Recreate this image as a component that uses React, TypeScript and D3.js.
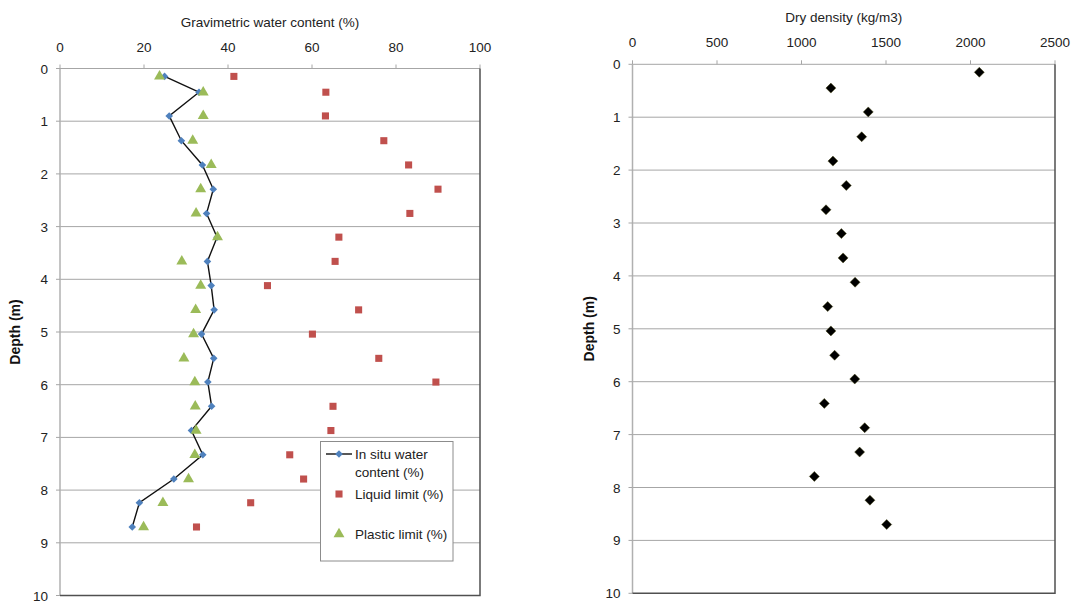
import React, { useEffect, useRef } from "react";
import * as d3 from "d3";

// depth of each sample (m)
const depths = [0.15, 0.45, 0.9, 1.37, 1.83, 2.29, 2.75, 3.2, 3.66, 4.12, 4.58, 5.04, 5.5, 5.95, 6.41, 6.87, 7.33, 7.79, 8.24, 8.7];
// gravimetric water content (%)
const inSitu = [24.9, 33.1, 26.0, 28.9, 33.9, 36.5, 34.9, 37.4, 35.1, 36.0, 36.7, 33.7, 36.6, 35.2, 36.1, 31.3, 34.0, 27.1, 18.9, 17.2];
const liquidLimit = [41.4, 63.3, 63.2, 77.1, 83.0, 90.0, 83.3, 66.4, 65.5, 49.4, 71.1, 60.1, 75.9, 89.5, 65.0, 64.5, 54.7, 58.0, 45.4, 32.5];
const plasticLimit = [23.7, 34.1, 34.1, 31.6, 36.0, 33.5, 32.4, 37.5, 29.0, 33.5, 32.3, 31.8, 29.5, 32.1, 32.2, 32.4, 32.1, 30.6, 24.5, 19.9];
// dry density (kg/m3)
const dryDensity = [2052, 1174, 1395, 1356, 1186, 1265, 1145, 1236, 1246, 1317, 1155, 1174, 1196, 1315, 1135, 1374, 1344, 1076, 1405, 1504];

const waterTicks = [0, 20, 40, 60, 80, 100];
const densityTicks = [0, 500, 1000, 1500, 2000, 2500];
const depthTicks = [0, 1, 2, 3, 4, 5, 6, 7, 8, 9, 10];

const FONT = "'Liberation Sans', Arial, sans-serif";
const BLUE = "#4F81BD";
const RED = "#C0504D";
const GREEN = "#9BBB59";

const diamond = (r: number) => `M0,${-r}L${r},0L0,${r}L${-r},0Z`;

/**
 * Draws the frame of one depth panel: top x axis, left depth axis, gridlines
 */
function drawFrame(svg: any, x: any, y: any, xTicks: number[], title: string, labelX: number) {
  const [x0, x1] = x.range();
  const [y0, y1] = y.range();
  const g = svg.append("g").style("font-family", FONT).style("font-size", "13.5px");

  // horizontal gridlines
  g.selectAll(".grid")
    .data(depthTicks.filter((d) => d > 0 && d < 10))
    .enter()
    .append("line")
    .attr("x1", x0).attr("x2", x1)
    .attr("y1", (d: number) => y(d)).attr("y2", (d: number) => y(d))
    .attr("stroke", "#a6a6a6");

  // top axis + ticks
  g.append("line").attr("x1", x0).attr("x2", x1).attr("y1", y0).attr("y2", y0).attr("stroke", "#a6a6a6");
  g.selectAll(".xt")
    .data(xTicks)
    .enter()
    .append("line")
    .attr("x1", (d: number) => x(d)).attr("x2", (d: number) => x(d))
    .attr("y1", y0 - 4).attr("y2", y0)
    .attr("stroke", "#a6a6a6");
  g.selectAll(".xl")
    .data(xTicks)
    .enter()
    .append("text")
    .attr("x", (d: number) => x(d))
    .attr("y", y0 - 17)
    .attr("text-anchor", "middle")
    .attr("fill", "#222")
    .text((d: number) => d);

  // left axis + ticks
  g.append("line").attr("x1", x0).attr("x2", x0).attr("y1", y0).attr("y2", y1).attr("stroke", "#b0b0b0").attr("stroke-width", 1.5);
  g.selectAll(".yt")
    .data(depthTicks)
    .enter()
    .append("line")
    .attr("x1", x0 - 4).attr("x2", x0)
    .attr("y1", (d: number) => y(d)).attr("y2", (d: number) => y(d))
    .attr("stroke", "#a6a6a6");
  g.selectAll(".yl")
    .data(depthTicks)
    .enter()
    .append("text")
    .attr("x", x0 - 12)
    .attr("y", (d: number) => y(d) + 5)
    .attr("text-anchor", "end")
    .attr("fill", "#222")
    .text((d: number) => d);

  // plot area border, right and bottom
  g.append("path")
    .attr("d", `M${x1},${y0}V${y1}H${x0}`)
    .attr("fill", "none")
    .attr("stroke", "#505050")
    .attr("stroke-width", 1.5);

  // titles
  g.append("text")
    .attr("x", (x0 + x1) / 2)
    .attr("y", y0 - 42)
    .attr("text-anchor", "middle")
    .attr("fill", "#222")
    .text(title);
  g.append("text")
    .attr("transform", `translate(${labelX},${(y0 + y1) / 2}) rotate(-90)`)
    .attr("text-anchor", "middle")
    .attr("font-weight", "bold")
    .attr("font-size", "14px")
    .attr("fill", "#111")
    .text("Depth (m)");
}

export default function App() {
  const ref = useRef<SVGSVGElement>(null);

  useEffect(() => {
    document.body.style.margin = "0";
    const svg = d3.select(ref.current);
    svg.selectAll("*").remove();

    // ---- left panel: water content
    const x = d3.scaleLinear().domain([0, 100]).range([60, 480]);
    const y = d3.scaleLinear().domain([0, 10]).range([68.5, 595.5]);
    drawFrame(svg, x, y, waterTicks, "Gravimetric water content (%)", 20);

    const tri = d3.symbol().type(d3.symbolTriangle).size(52);
    const sq = d3.symbol().type(d3.symbolSquare).size(50);

    svg.append("g")
      .selectAll("path")
      .data(liquidLimit)
      .enter()
      .append("path")
      .attr("d", sq() as string)
      .attr("transform", (d, i) => `translate(${x(d)},${y(depths[i])})`)
      .attr("fill", RED);

    const line = d3.line<number>().x((d) => x(d)).y((d, i) => y(depths[i]));
    svg.append("path")
      .datum(inSitu)
      .attr("d", line)
      .attr("fill", "none")
      .attr("stroke", "#111")
      .attr("stroke-width", 1.4);
    svg.append("g")
      .selectAll("path")
      .data(inSitu)
      .enter()
      .append("path")
      .attr("d", diamond(3.8))
      .attr("transform", (d, i) => `translate(${x(d)},${y(depths[i])})`)
      .attr("fill", BLUE);

    svg.append("g")
      .selectAll("path")
      .data(plasticLimit)
      .enter()
      .append("path")
      .attr("d", tri() as string)
      .attr("transform", (d, i) => `translate(${x(d)},${y(depths[i])})`)
      .attr("fill", GREEN);

    // legend
    const lg = svg.append("g").style("font-family", FONT).style("font-size", "13.5px").attr("fill", "#222");
    lg.append("rect")
      .attr("x", 320.5).attr("y", 441.5).attr("width", 132.5).attr("height", 119.5)
      .attr("fill", "#fff").attr("stroke", "#8c8c8c");
    lg.append("line").attr("x1", 326).attr("x2", 352).attr("y1", 454).attr("y2", 454).attr("stroke", "#111").attr("stroke-width", 1.4);
    lg.append("path").attr("d", diamond(3.8)).attr("transform", "translate(339,454)").attr("fill", BLUE);
    lg.append("text").attr("x", 355).attr("y", 459).text("In situ water");
    lg.append("text").attr("x", 355).attr("y", 476.5).text("content (%)");
    lg.append("path").attr("d", sq() as string).attr("transform", "translate(339,494)").attr("fill", RED);
    lg.append("text").attr("x", 355).attr("y", 499).text("Liquid limit (%)");
    lg.append("path").attr("d", tri() as string).attr("transform", "translate(339,534)").attr("fill", GREEN);
    lg.append("text").attr("x", 355).attr("y", 539).text("Plastic limit (%)");

    // ---- right panel: dry density
    const x2 = d3.scaleLinear().domain([0, 2500]).range([632.5, 1055]);
    const y2 = d3.scaleLinear().domain([0, 10]).range([64.3, 593.3]);
    drawFrame(svg, x2, y2, densityTicks, "Dry density (kg/m3)", 594);

    svg.append("g")
      .selectAll("path")
      .data(dryDensity)
      .enter()
      .append("path")
      .attr("d", diamond(5))
      .attr("transform", (d, i) => `translate(${x2(d)},${y2(depths[i])})`)
      .attr("fill", "#000")
      .attr("stroke", "#4d4d1a")
      .attr("stroke-width", 0.5);
  }, []);

  return <svg ref={ref} width={1073} height={601} style={{ display: "block", background: "#fff" }} />;
}
